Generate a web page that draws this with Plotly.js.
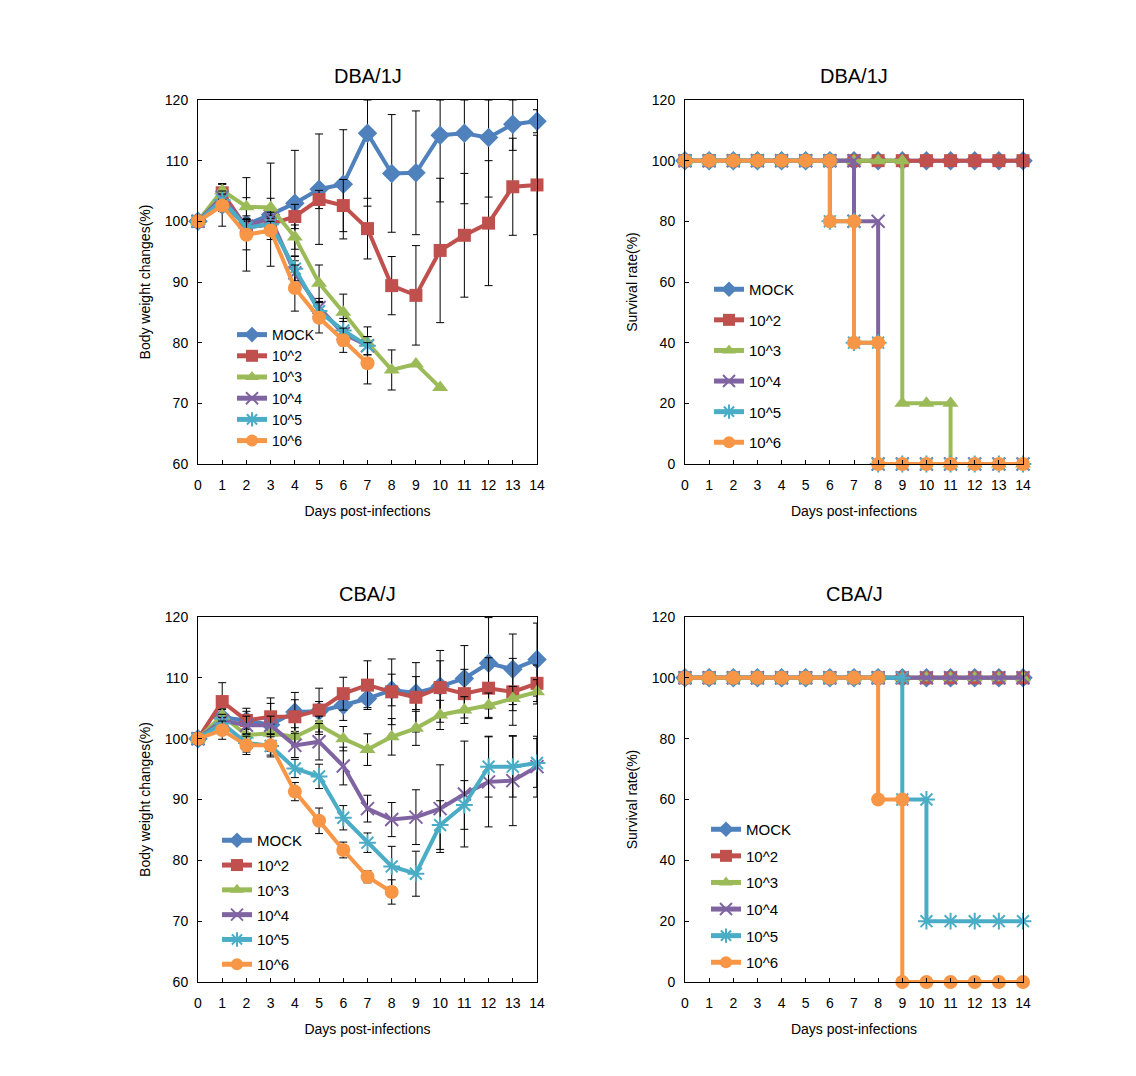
<!DOCTYPE html>
<html><head><meta charset="utf-8">
<script src="https://cdn.plot.ly/plotly-3.0.1.min.js"></script>
<style>html,body{margin:0;padding:0;background:#fff}#chart{width:1136px;height:1076px}</style>
</head><body><div id="chart"></div>
<script>
// ---------- data ----------
const days = [0,1,2,3,4,5,6,7,8,9,10,11,12,13,14];
const seriesNames = ['MOCK','10^2','10^3','10^4','10^5','10^6'];

// DBA/1J body weight changes (%)
const dbaMock   = [100,102.7,99.5,101.1,103.0,105.3,106.1,114.5,107.9,108.0,114.2,114.5,113.8,116.0,116.5];
const dbaMockErr= [0,3.5,7.7,8.5,8.7,9.1,9.0,12,9.7,10.2,11,11.6,9.8,4.3,1.9];
const dba1e2    = [100,104.7,99.0,99.5,100.8,103.6,102.6,98.8,89.4,87.8,95.2,97.7,99.7,105.7,106.0];
const dba1e2Err = [0,1.5,1.5,1.5,2,1.5,4.3,5,4.8,8.2,11.9,10.2,10.3,8.0,8.2];
const dba1e3    = [100,105.1,102.4,102.3,97.4,89.8,85.0,80.0,75.5,76.5,72.6];
const dba1e3Err = [0,1,1.5,1.5,2,3,3,2.6,3.3,0,0];
const dba1e4    = [100,104.0,99.2,100.5,91.5,85.8,81.5,79.5];
const dba1e4Err = [0,1,1,1,2,1.5,2,1.5];
const dba1e5    = [100,103.5,99.0,99.5,92.2,85.2,82.0,79.5];
const dba1e5Err = [0,1,1,1,2,1.5,2,1.5];
const dba1e6    = [100,102.6,97.8,98.5,89.0,84.1,80.4,76.6];
const dba1e6Err = [0,1,2.5,1.5,3.8,2.5,2,3.4];

// CBA/J body weight changes (%)
const cbaMock   = [100,103.5,103.0,102.3,104.4,104.5,105.5,106.6,108.0,107.5,108.6,109.9,112.4,111.4,113.0];
const cbaMockErr= [0,1.5,2,4.4,3.2,1.6,2.5,1.5,2.6,2.7,5.9,5.4,7.5,5.8,6];
const cba1e2    = [100,106.1,103.0,103.6,103.6,104.7,107.4,108.8,107.7,106.8,108.4,107.4,108.3,107.7,109.1];
const cba1e2Err = [0,3.1,1.5,2.2,2.8,3.6,2.7,4,5.4,5.7,4.4,4,5,5.5,3];
const cba1e3    = [100,103.8,100.6,100.9,100.3,102.2,100.0,98.2,100.3,101.7,103.9,104.7,105.5,106.6,107.7];
const cba1e3Err = [0,1,1,1.5,1.5,1.5,2,2.6,3,2.8,2.4,2.2,2,2,2];
const cba1e4    = [100,103.0,102.2,102.2,98.9,99.5,95.5,88.5,86.7,87.1,88.5,90.9,92.9,93.1,95.4];
const cba1e4Err = [0,1,1.5,1.5,2,3,3.1,2.2,2.8,4.5,7.2,8.7,7.4,7.4,5];
const cba1e5    = [100,102.5,99.3,98.8,95.1,93.8,87.0,82.9,79.0,77.8,85.8,89.1,95.4,95.4,96.0];
const cba1e5Err = [0,1,1.5,1.5,1.5,2,2,1.6,3.3,3.7,4,4,5,5,4];
const cba1e6    = [100,101.4,98.9,98.9,91.3,86.5,81.7,77.3,74.8];
const cba1e6Err = [0,1.5,1.5,1.9,1.5,2.1,1.3,1,2];

// DBA/1J survival rate (%)
const dbaSurvMockX = days;
const dbaSurvMock  = [100,100,100,100,100,100,100,100,100,100,100,100,100,100,100];
const dbaSurv1e2X  = days;
const dbaSurv1e2   = [100,100,100,100,100,100,100,100,100,100,100,100,100,100,100];
const dbaSurv1e3X  = [0,1,2,3,4,5,6,7,8,9,9,10,11,11,12,13,14];
const dbaSurv1e3   = [100,100,100,100,100,100,100,100,100,100,20,20,20,0,0,0,0];
const dbaSurv1e4X  = [0,1,2,3,4,5,6,7,7,8,8,9,10,11,12,13,14];
const dbaSurv1e4   = [100,100,100,100,100,100,100,100,80,80,0,0,0,0,0,0,0];
const dbaSurv1e5X  = [0,1,2,3,4,5,6,6,7,7,8,8,9,10,11,12,13,14];
const dbaSurv1e5   = [100,100,100,100,100,100,100,80,80,40,40,0,0,0,0,0,0,0];
const dbaSurv1e6X  = [0,1,2,3,4,5,6,6,7,7,8,8,9,10,11,12,13,14];
const dbaSurv1e6   = [100,100,100,100,100,100,100,80,80,40,40,0,0,0,0,0,0,0];

// CBA/J survival rate (%)
const cbaSurvMockX = days;
const cbaSurvMock  = [100,100,100,100,100,100,100,100,100,100,100,100,100,100,100];
const cbaSurv1e2X  = days;
const cbaSurv1e2   = [100,100,100,100,100,100,100,100,100,100,100,100,100,100,100];
const cbaSurv1e3X  = days;
const cbaSurv1e3   = [100,100,100,100,100,100,100,100,100,100,100,100,100,100,100];
const cbaSurv1e4X  = days;
const cbaSurv1e4   = [100,100,100,100,100,100,100,100,100,100,100,100,100,100,100];
const cbaSurv1e5X  = [0,1,2,3,4,5,6,7,8,9,9,10,10,11,12,13,14];
const cbaSurv1e5   = [100,100,100,100,100,100,100,100,100,100,60,60,20,20,20,20,20];
const cbaSurv1e6X  = [0,1,2,3,4,5,6,7,8,8,9,9,10,11,12,13,14];
const cbaSurv1e6   = [100,100,100,100,100,100,100,100,100,60,60,0,0,0,0,0,0];

const panelTitles = ['DBA/1J','DBA/1J','CBA/J','CBA/J'];
const xTitle = 'Days post-infections';
const yTitleWeight = 'Body weight changes(%)';
const yTitleSurv = 'Survival rate(%)';

// ---------- styles ----------
const colors = ['#4F81BD','#C0504D','#9BBB59','#8064A2','#4BACC6','#F79646'];
const markerStyles = [
  {symbol:'diamond', size:15},
  {symbol:'square', size:13},
  {symbol:'triangle-up', size:14},
  {symbol:'x-thin-open', size:13, line:{width:2}},
  {symbol:'asterisk-open', size:14, line:{width:2}},
  {symbol:'circle', size:14}
];
const FONT = 'Liberation Sans, Arial, sans-serif';

function mk(i, x, y, err, ax, lg, panel) {
  const ms = markerStyles[i];
  const marker = {symbol: ms.symbol, size: ms.size, color: colors[i]};
  if (ms.line) marker.line = {width: ms.line.width, color: colors[i]};
  const t = {
    type:'scatter', mode:'lines+markers', name: seriesNames[i],
    x: x, y: y, xaxis: 'x'+ax, yaxis: 'y'+ax, legend: lg,
    legendgroup: panel+'-'+i, cliponaxis: false,
    line: {color: colors[i], width: 4}, marker: marker
  };
  if (err) {
    t.error_y = {type:'data', symmetric:false,
      array: err.map((e,k)=>Math.min(e, 120 - y[k])),
      arrayminus: err, color:'#000', thickness:1, width:4};
  }
  return t;
}

const traces = [];
const dbaW = [[dbaMock,dbaMockErr],[dba1e2,dba1e2Err],[dba1e3,dba1e3Err],[dba1e4,dba1e4Err],[dba1e5,dba1e5Err],[dba1e6,dba1e6Err]];
const cbaW = [[cbaMock,cbaMockErr],[cba1e2,cba1e2Err],[cba1e3,cba1e3Err],[cba1e4,cba1e4Err],[cba1e5,cba1e5Err],[cba1e6,cba1e6Err]];
const dbaS = [[dbaSurvMockX,dbaSurvMock],[dbaSurv1e2X,dbaSurv1e2],[dbaSurv1e3X,dbaSurv1e3],[dbaSurv1e4X,dbaSurv1e4],[dbaSurv1e5X,dbaSurv1e5],[dbaSurv1e6X,dbaSurv1e6]];
const cbaS = [[cbaSurvMockX,cbaSurvMock],[cbaSurv1e2X,cbaSurv1e2],[cbaSurv1e3X,cbaSurv1e3],[cbaSurv1e4X,cbaSurv1e4],[cbaSurv1e5X,cbaSurv1e5],[cbaSurv1e6X,cbaSurv1e6]];

dbaW.forEach((s,i)=>traces.push(mk(i, days.slice(0,s[0].length), s[0], s[1], '', 'legend', 'p1')));
dbaS.forEach((s,i)=>traces.push(mk(i, s[0], s[1], null, '2', 'legend2', 'p2')));
cbaW.forEach((s,i)=>traces.push(mk(i, days.slice(0,s[0].length), s[0], s[1], '3', 'legend3', 'p3')));
cbaS.forEach((s,i)=>traces.push(mk(i, s[0], s[1], null, '4', 'legend4', 'p4')));

const W = 1136, H = 1076;
const px = v => v / W, py = v => 1 - v / H;
const colL = [px(198), px(537)], colR = [px(685), px(1023)];
const rowT = [py(464), py(100)], rowB = [py(982), py(617)];

function xax(dom, anchor) {
  return {domain: dom, anchor: anchor, range:[0,14], dtick:1, tick0:0,
    showline:true, linecolor:'#000', linewidth:1, mirror:true,
    ticks:'inside', ticklen:4, tickcolor:'#000', showgrid:false, zeroline:false,
    ticklabelstandoff: 8,
    tickfont:{family:FONT, size:14, color:'#000'},
    title:{text:xTitle, font:{family:FONT, size:14, color:'#000'}, standoff:14}};
}
function yax(dom, anchor, range, dtick, title) {
  return {domain: dom, anchor: anchor, range: range, dtick: dtick,
    showline:true, linecolor:'#000', linewidth:1, mirror:true,
    ticks:'inside', ticklen:4, tickcolor:'#000', showgrid:false, zeroline:false,
    ticklabelstandoff: 6,
    tickfont:{family:FONT, size:14, color:'#000'},
    title:{text:title, font:{family:FONT, size:14, color:'#000'}, standoff:10}};
}
function lgd(x, y, size, gap) {
  return {x: px(x), y: py(y), xanchor:'left', yanchor:'top', bgcolor:'rgba(0,0,0,0)',
    font:{family:FONT, size:size, color:'#000'}, tracegroupgap: gap, itemsizing:'constant'};
}
function ttl(text, x, y) {
  return {text:text, x:x, y:y, xref:'paper', yref:'paper', xanchor:'center', yanchor:'middle',
    showarrow:false, font:{family:FONT, size:20, color:'#000'}};
}

const layout = {
  width: W, height: H, margin:{l:0,r:0,t:0,b:0}, paper_bgcolor:'#fff', plot_bgcolor:'#fff',
  showlegend: true,
  xaxis: xax(colL,'y'), yaxis: yax(rowT,'x',[60,120],10,yTitleWeight),
  xaxis2: xax(colR,'y2'), yaxis2: yax(rowT,'x2',[0,120],20,yTitleSurv),
  xaxis3: xax(colL,'y3'), yaxis3: yax(rowB,'x3',[60,120],10,yTitleWeight),
  xaxis4: xax(colR,'y4'), yaxis4: yax(rowB,'x4',[0,120],20,yTitleSurv),
  legend: lgd(232, 319, 14, 0),
  legend2: lgd(709, 273, 15, 8.1),
  legend3: lgd(217, 824, 15, 2.3),
  legend4: lgd(706, 813, 15, 4.1),
  annotations: [
    ttl(panelTitles[0], (colL[0]+colL[1])/2, py(76)),
    ttl(panelTitles[1], (colR[0]+colR[1])/2, py(76)),
    ttl(panelTitles[2], (colL[0]+colL[1])/2, py(594)),
    ttl(panelTitles[3], (colR[0]+colR[1])/2, py(594))
  ]
};

Plotly.newPlot('chart', traces, layout, {staticPlot:true});
</script>
</body></html>
